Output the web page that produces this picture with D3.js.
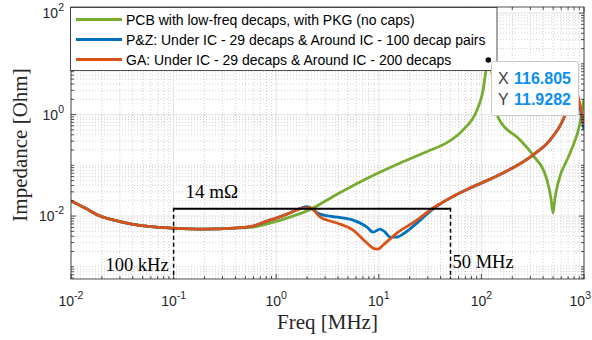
<!DOCTYPE html>
<html>
<head>
<meta charset="utf-8">
<style>
  body { margin: 0; background: #fff; overflow: hidden; }
  svg { display: block; }
</style>
<script src="https://cdn.jsdelivr.net/npm/d3@7/dist/d3.min.js"></script>
</head>
<body>
<svg width="592" height="340"></svg>
<script>
// series data, freq in MHz, impedance in Ohm
const pcbFreq = [0.01, 0.0137, 0.0192, 0.0301, 0.045, 0.1, 0.198, 0.396, 0.594, 0.87, 1.36, 2.13, 3.92, 8.2, 17.2, 30, 46.1, 66, 90.6, 104, 111, 116.8, 130, 145, 238, 318, 436, 476, 499, 521, 558, 731, 915, 1000];
const pcbZ    = [0.0198, 0.0144, 0.0100, 0.0078, 0.00665, 0.0058, 0.00554, 0.0058, 0.00607, 0.00728, 0.00955, 0.0134, 0.027, 0.059, 0.118, 0.19, 0.28, 0.495, 1.23, 3.04, 7.5, 11.93, 4.8, 0.893, 0.315, 0.159, 0.0513, 0.0226, 0.01146, 0.0226, 0.0447, 0.174, 0.68, 2.02];

const pzFreq = [0.01, 0.0137, 0.0192, 0.0301, 0.045, 0.1, 0.198, 0.396, 0.594, 0.813, 1.0, 1.36, 2.0, 2.67, 3.92, 5.61, 7.68, 8.78, 10.3, 11.5, 12.9, 15.0, 17.2, 23.5, 33.7, 49.4, 77.4, 162.5, 318, 466, 624, 731, 817, 894, 1000];
const pzZ    = [0.0198, 0.0144, 0.0100, 0.0078, 0.00665, 0.0058, 0.00554, 0.0058, 0.00635, 0.00797, 0.00914, 0.01148, 0.0154, 0.01094, 0.00955, 0.00834, 0.00607, 0.00484, 0.00554, 0.00484, 0.00386, 0.00386, 0.00442, 0.00728, 0.01375, 0.0226, 0.0356, 0.0704, 0.159, 0.315, 0.78, 1.85, 3.1, 1.7, 0.495];

const gaFreq = [0.01, 0.0137, 0.0192, 0.0301, 0.045, 0.1, 0.198, 0.396, 0.594, 0.813, 1.0, 1.36, 1.82, 2.13, 2.67, 3.92, 5.61, 7.68, 8.78, 9.82, 11.0, 15.0, 23.5, 33.7, 49.4, 77.4, 162.5, 318, 466, 624, 731, 817, 894, 1000];
const gaZ    = [0.0198, 0.0144, 0.0100, 0.0078, 0.00665, 0.0058, 0.00554, 0.0058, 0.00635, 0.00797, 0.00914, 0.01148, 0.01438, 0.0147, 0.0096, 0.00728, 0.0053, 0.00294, 0.00234, 0.00224, 0.00268, 0.00462, 0.00834, 0.0144, 0.0226, 0.0356, 0.0704, 0.159, 0.315, 0.78, 1.93, 3.33, 1.93, 0.62];

const legendLabels = [
  'PCB with low-freq decaps, with PKG (no caps)',
  'P&Z: Under IC - 29 decaps & Around IC - 100 decap pairs',
  'GA: Under IC - 29 decaps & Around IC - 200 decaps'
];
const xTickExp = [-2, -1, 0, 1, 2, 3];
const yTickExp = [-2, 0, 2];

// target band: 14 mOhm from 100 kHz to 50 MHz
const targetZ = 0.014;
const bandFreq = [0.1, 50];
const bandLabels = ['100 kHz', '50 MHz'];

// data tip
const tipFreq = 116.805;
const tipZ = 11.9282;

const svg = d3.select('svg');
const pl = 71, pr = 584, pt = 7, pb = 279;

const x = d3.scaleLog().domain([1e-2, 1e3]).range([pl, pr]);
const y = d3.scaleLog().domain([Math.pow(10, -3.24), Math.pow(10, 2.12)]).range([pb, pt]);

const sans = '"Liberation Sans", Arial, sans-serif';
const serif = '"Liberation Serif", "Times New Roman", serif';
const axisColor = '#262626';

// grid
const grid = svg.append('g');
const xMinor = [], yMinor = [];
for (let p = -2; p < 3; p++) for (let k = 1; k < 10; k++) xMinor.push(k * Math.pow(10, p));
xMinor.push(1000);
for (let p = -4; p < 3; p++) for (let k = 1; k < 10; k++) {
  const v = k * Math.pow(10, p);
  if (v >= y.domain()[0] && v <= y.domain()[1]) yMinor.push(v);
}
const isMajorX = v => xTickExp.some(e => Math.abs(Math.log10(v) - e) < 1e-6);
const isMajorY = v => yTickExp.some(e => Math.abs(Math.log10(v) - e) < 1e-6);

grid.selectAll('line.vx').data(xMinor.filter(v => !isMajorX(v))).enter().append('line')
  .attr('x1', d => x(d)).attr('x2', d => x(d)).attr('y1', pt).attr('y2', pb)
  .attr('stroke', '#c4c4c4').attr('stroke-width', 0.8).attr('stroke-dasharray', '1,2');
grid.selectAll('line.hy').data(yMinor.filter(v => !isMajorY(v))).enter().append('line')
  .attr('y1', d => y(d)).attr('y2', d => y(d)).attr('x1', pl).attr('x2', pr)
  .attr('stroke', '#c4c4c4').attr('stroke-width', 0.8).attr('stroke-dasharray', '1,2');
grid.selectAll('line.mx').data(xTickExp).enter().append('line')
  .attr('x1', d => x(Math.pow(10, d))).attr('x2', d => x(Math.pow(10, d))).attr('y1', pt).attr('y2', pb)
  .attr('stroke', '#dcdcdc').attr('stroke-width', 0.8);
grid.selectAll('line.my').data(yTickExp).enter().append('line')
  .attr('y1', d => y(Math.pow(10, d))).attr('y2', d => y(Math.pow(10, d))).attr('x1', pl).attr('x2', pr)
  .attr('stroke', '#dcdcdc').attr('stroke-width', 0.8);

// curves
svg.append('clipPath').attr('id', 'plot')
  .append('rect').attr('x', pl).attr('y', pt).attr('width', pr - pl).attr('height', pb - pt);

const series = [
  { f: pcbFreq, z: pcbZ, color: '#77AC30' },
  { f: pzFreq, z: pzZ, color: '#0072BD' },
  { f: gaFreq, z: gaZ, color: '#D95319' }
];
const line = d3.line().x(d => x(d[0])).y(d => y(d[1])).curve(d3.curveMonotoneX);
const curves = svg.append('g').attr('clip-path', 'url(#plot)');
series.forEach(s => {
  curves.append('path')
    .attr('d', line(d3.zip(s.f, s.z)))
    .attr('fill', 'none')
    .attr('stroke', s.color)
    .attr('stroke-width', 2.8)
    .attr('stroke-linejoin', 'round');
});

// target annotation
const ann = svg.append('g');
ann.append('line')
  .attr('x1', x(bandFreq[0])).attr('x2', x(bandFreq[1]))
  .attr('y1', y(targetZ)).attr('y2', y(targetZ))
  .attr('stroke', '#000').attr('stroke-width', 2);
ann.selectAll('line.dash').data(bandFreq).enter().append('line')
  .attr('x1', d => x(d)).attr('x2', d => x(d))
  .attr('y1', y(targetZ) - 1).attr('y2', pb)
  .attr('stroke', '#000').attr('stroke-width', 1.5).attr('stroke-dasharray', '4,3');
ann.append('text')
  .attr('x', x(bandFreq[0]) + 12).attr('y', 198)
  .attr('font-family', serif).attr('font-size', 19)
  .text('14 m\u03A9');
ann.append('text')
  .attr('x', x(bandFreq[0]) - 5).attr('y', 271)
  .attr('text-anchor', 'end')
  .attr('font-family', serif).attr('font-size', 18.5)
  .text(bandLabels[0]);
ann.append('text')
  .attr('x', x(bandFreq[1]) + 2).attr('y', 268)
  .attr('font-family', serif).attr('font-size', 18.5)
  .text(bandLabels[1]);

// axes box + ticks
const ax = svg.append('g').attr('stroke', axisColor);
ax.append('rect').attr('x', pl).attr('y', pt).attr('width', pr - pl).attr('height', pb - pt)
  .attr('fill', 'none').attr('stroke-width', 0.8);
xMinor.forEach(v => {
  const len = isMajorX(v) ? 5 : 3;
  ax.append('line').attr('x1', x(v)).attr('x2', x(v)).attr('y1', pb).attr('y2', pb - len).attr('stroke-width', 0.8);
  ax.append('line').attr('x1', x(v)).attr('x2', x(v)).attr('y1', pt).attr('y2', pt + len).attr('stroke-width', 0.8);
});
yMinor.forEach(v => {
  const len = isMajorY(v) ? 5 : 3;
  ax.append('line').attr('y1', y(v)).attr('y2', y(v)).attr('x1', pl).attr('x2', pl + len).attr('stroke-width', 0.8);
  ax.append('line').attr('y1', y(v)).attr('y2', y(v)).attr('x1', pr).attr('x2', pr - len).attr('stroke-width', 0.8);
});

// tick labels
xTickExp.forEach((e, i) => {
  const last = i === xTickExp.length - 1;
  const t = svg.append('text')
    .attr('x', last ? 591 : x(Math.pow(10, e))).attr('y', 306)
    .attr('text-anchor', last ? 'end' : 'middle')
    .attr('font-family', sans).attr('font-size', 14).attr('fill', axisColor);
  t.append('tspan').text('10');
  t.append('tspan').attr('dy', -7).attr('font-size', 10.5).text(e < 0 ? '-' + (-e) : e);
});
yTickExp.forEach(e => {
  const t = svg.append('text')
    .attr('x', 64).attr('y', y(Math.pow(10, e)) + 5)
    .attr('text-anchor', 'end')
    .attr('font-family', sans).attr('font-size', 14).attr('fill', axisColor);
  t.append('tspan').text('10');
  t.append('tspan').attr('dy', -7).attr('font-size', 10.5).text(e < 0 ? '-' + (-e) : e);
});

// axis titles
svg.append('text')
  .attr('x', (pl + pr) / 2).attr('y', 329)
  .attr('text-anchor', 'middle')
  .attr('font-family', serif).attr('font-size', 21).attr('fill', axisColor)
  .text('Freq [MHz]');
svg.append('text')
  .attr('transform', 'translate(27,145) rotate(-90)')
  .attr('text-anchor', 'middle')
  .attr('font-family', serif).attr('font-size', 21).attr('fill', axisColor)
  .text('Impedance [Ohm]');

// legend
const lg = svg.append('g');
lg.append('rect').attr('x', 70.5).attr('y', 7.5).attr('width', 426.5).attr('height', 63)
  .attr('fill', '#fff').attr('stroke', axisColor).attr('stroke-width', 0.8);
legendLabels.forEach((lab, i) => {
  const cy = 19.5 + i * 20;
  lg.append('line').attr('x1', 76).attr('x2', 122).attr('y1', cy).attr('y2', cy)
    .attr('stroke', series[i].color).attr('stroke-width', 2.8);
  lg.append('text').attr('x', 126).attr('y', cy + 5)
    .attr('font-family', sans).attr('font-size', 14).attr('fill', '#000')
    .text(lab);
});

// data tip
const tx = x(tipFreq), ty = y(tipZ);
svg.append('circle').attr('cx', tx).attr('cy', ty).attr('r', 2.8).attr('fill', '#111');
const tip = svg.append('g');
tip.append('rect').attr('x', 491.5).attr('y', 61.5).attr('width', 87).attr('height', 54).attr('rx', 2)
  .attr('fill', '#fff').attr('stroke', '#c8c8c8').attr('stroke-width', 1);
[['X', tipFreq.toFixed(3)], ['Y', tipZ.toFixed(4)]].forEach((r, i) => {
  const t = tip.append('text').attr('x', 498).attr('y', 84 + i * 21)
    .attr('font-family', sans).attr('font-size', 16);
  t.append('tspan').attr('fill', '#404040').text(r[0]);
  t.append('tspan').attr('x', 514).attr('fill', '#0a8ef0').attr('font-weight', 'bold').text(r[1]);
});
</script>
</body>
</html>
